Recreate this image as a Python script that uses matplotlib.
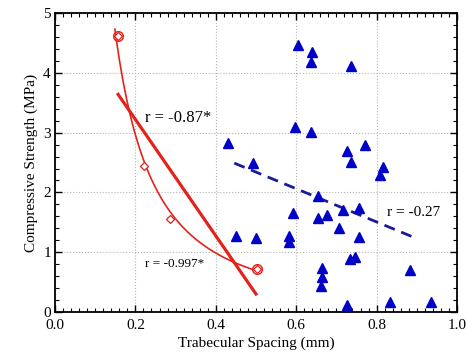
import numpy as np
import matplotlib
matplotlib.use("Agg")
import matplotlib.pyplot as plt
from matplotlib.ticker import MultipleLocator

# blue group (triangles)
blue_x = [0.605, 0.640, 0.638, 0.737, 0.598, 0.638, 0.772, 0.727, 0.737, 0.817,
          0.809, 0.430, 0.493, 0.653, 0.717, 0.757, 0.593, 0.655, 0.677, 0.707,
          0.755, 0.583, 0.583, 0.450, 0.500, 0.735, 0.747, 0.665, 0.665, 0.662,
          0.727, 0.834, 0.936, 0.882]
blue_y = [4.46, 4.35, 4.18, 4.11, 3.09, 3.01, 2.79, 2.69, 2.51, 2.42,
          2.29, 2.83, 2.49, 1.94, 1.71, 1.74, 1.66, 1.57, 1.62, 1.40,
          1.25, 1.27, 1.17, 1.27, 1.24, 0.89, 0.92, 0.74, 0.59, 0.43,
          0.12, 0.17, 0.17, 0.70]

# red group (open diamonds)
red_x = [0.157, 0.222, 0.286, 0.503]
red_y = [4.62, 2.44, 1.55, 0.72]

# regression lines
red_line_x = [0.157, 0.500]
red_line_y = [3.64, 0.30]
blue_line_x = [0.446, 0.892]
blue_line_y = [2.49, 1.25]

RED = "#e3221c"
BLUE = "#0000c8"

plt.rcParams["font.family"] = ["Liberation Serif", "DejaVu Serif"]

fig = plt.figure(figsize=(4.68, 3.64), dpi=100)
ax = fig.add_axes([0.1175, 0.143, 0.859, 0.821])

ax.grid(True, linestyle=":", color="#b4b4b4", linewidth=0.8)
ax.set_axisbelow(True)

# power-law fit through the red points
b, loga = np.polyfit(np.log(red_x), np.log(red_y), 1)
cx = np.linspace(0.149, 0.503, 200)
ax.plot(cx, np.exp(loga) * cx ** b, color=RED, lw=1.2)
ax.plot(red_line_x, red_line_y, color=RED, lw=2.3)
ax.plot(blue_line_x, blue_line_y, color="#1a1a9a", lw=2.0, ls=(0, (4, 2.5)))

ax.plot(red_x, red_y, ls="none", marker="D", ms=4, mfc="white", mec=RED, mew=0.9)
ax.plot([red_x[0], red_x[-1]], [red_y[0], red_y[-1]], ls="none", marker="o", ms=7,
        mfc="none", mec=RED, mew=1.0)
ax.plot(blue_x, blue_y, ls="none", marker="^", ms=7, color=BLUE)

ax.text(0.224, 3.24, "r = -0.87*", fontsize=12, va="center")
ax.text(0.224, 0.80, "r = -0.997*", fontsize=9.5, va="center")
ax.text(0.827, 1.67, "r = -0.27", fontsize=11, va="center")

ax.set_xlim(0, 1.0)
ax.set_ylim(0, 5)
ax.xaxis.set_major_locator(MultipleLocator(0.2))
ax.xaxis.set_minor_locator(MultipleLocator(0.02))
ax.yaxis.set_major_locator(MultipleLocator(1))
ax.yaxis.set_minor_locator(MultipleLocator(0.2))
ax.set_xticklabels([f"{v:.1f}" for v in ax.get_xticks()])
ax.tick_params(which="both", direction="in", top=True, right=True, labelsize=11)
ax.tick_params(which="major", length=5, width=1.0)
ax.tick_params(which="minor", length=3, width=0.8)
ax.tick_params(axis="y", pad=3)
ax.tick_params(axis="x", pad=5)
for s in ax.spines.values():
    s.set_linewidth(1.3)

ax.set_xlabel("Trabecular Spacing (mm)", fontsize=11, labelpad=3)
ax.set_ylabel("Compressive Strength (MPa)", fontsize=11)

fig.savefig("out.png", dpi=100)
